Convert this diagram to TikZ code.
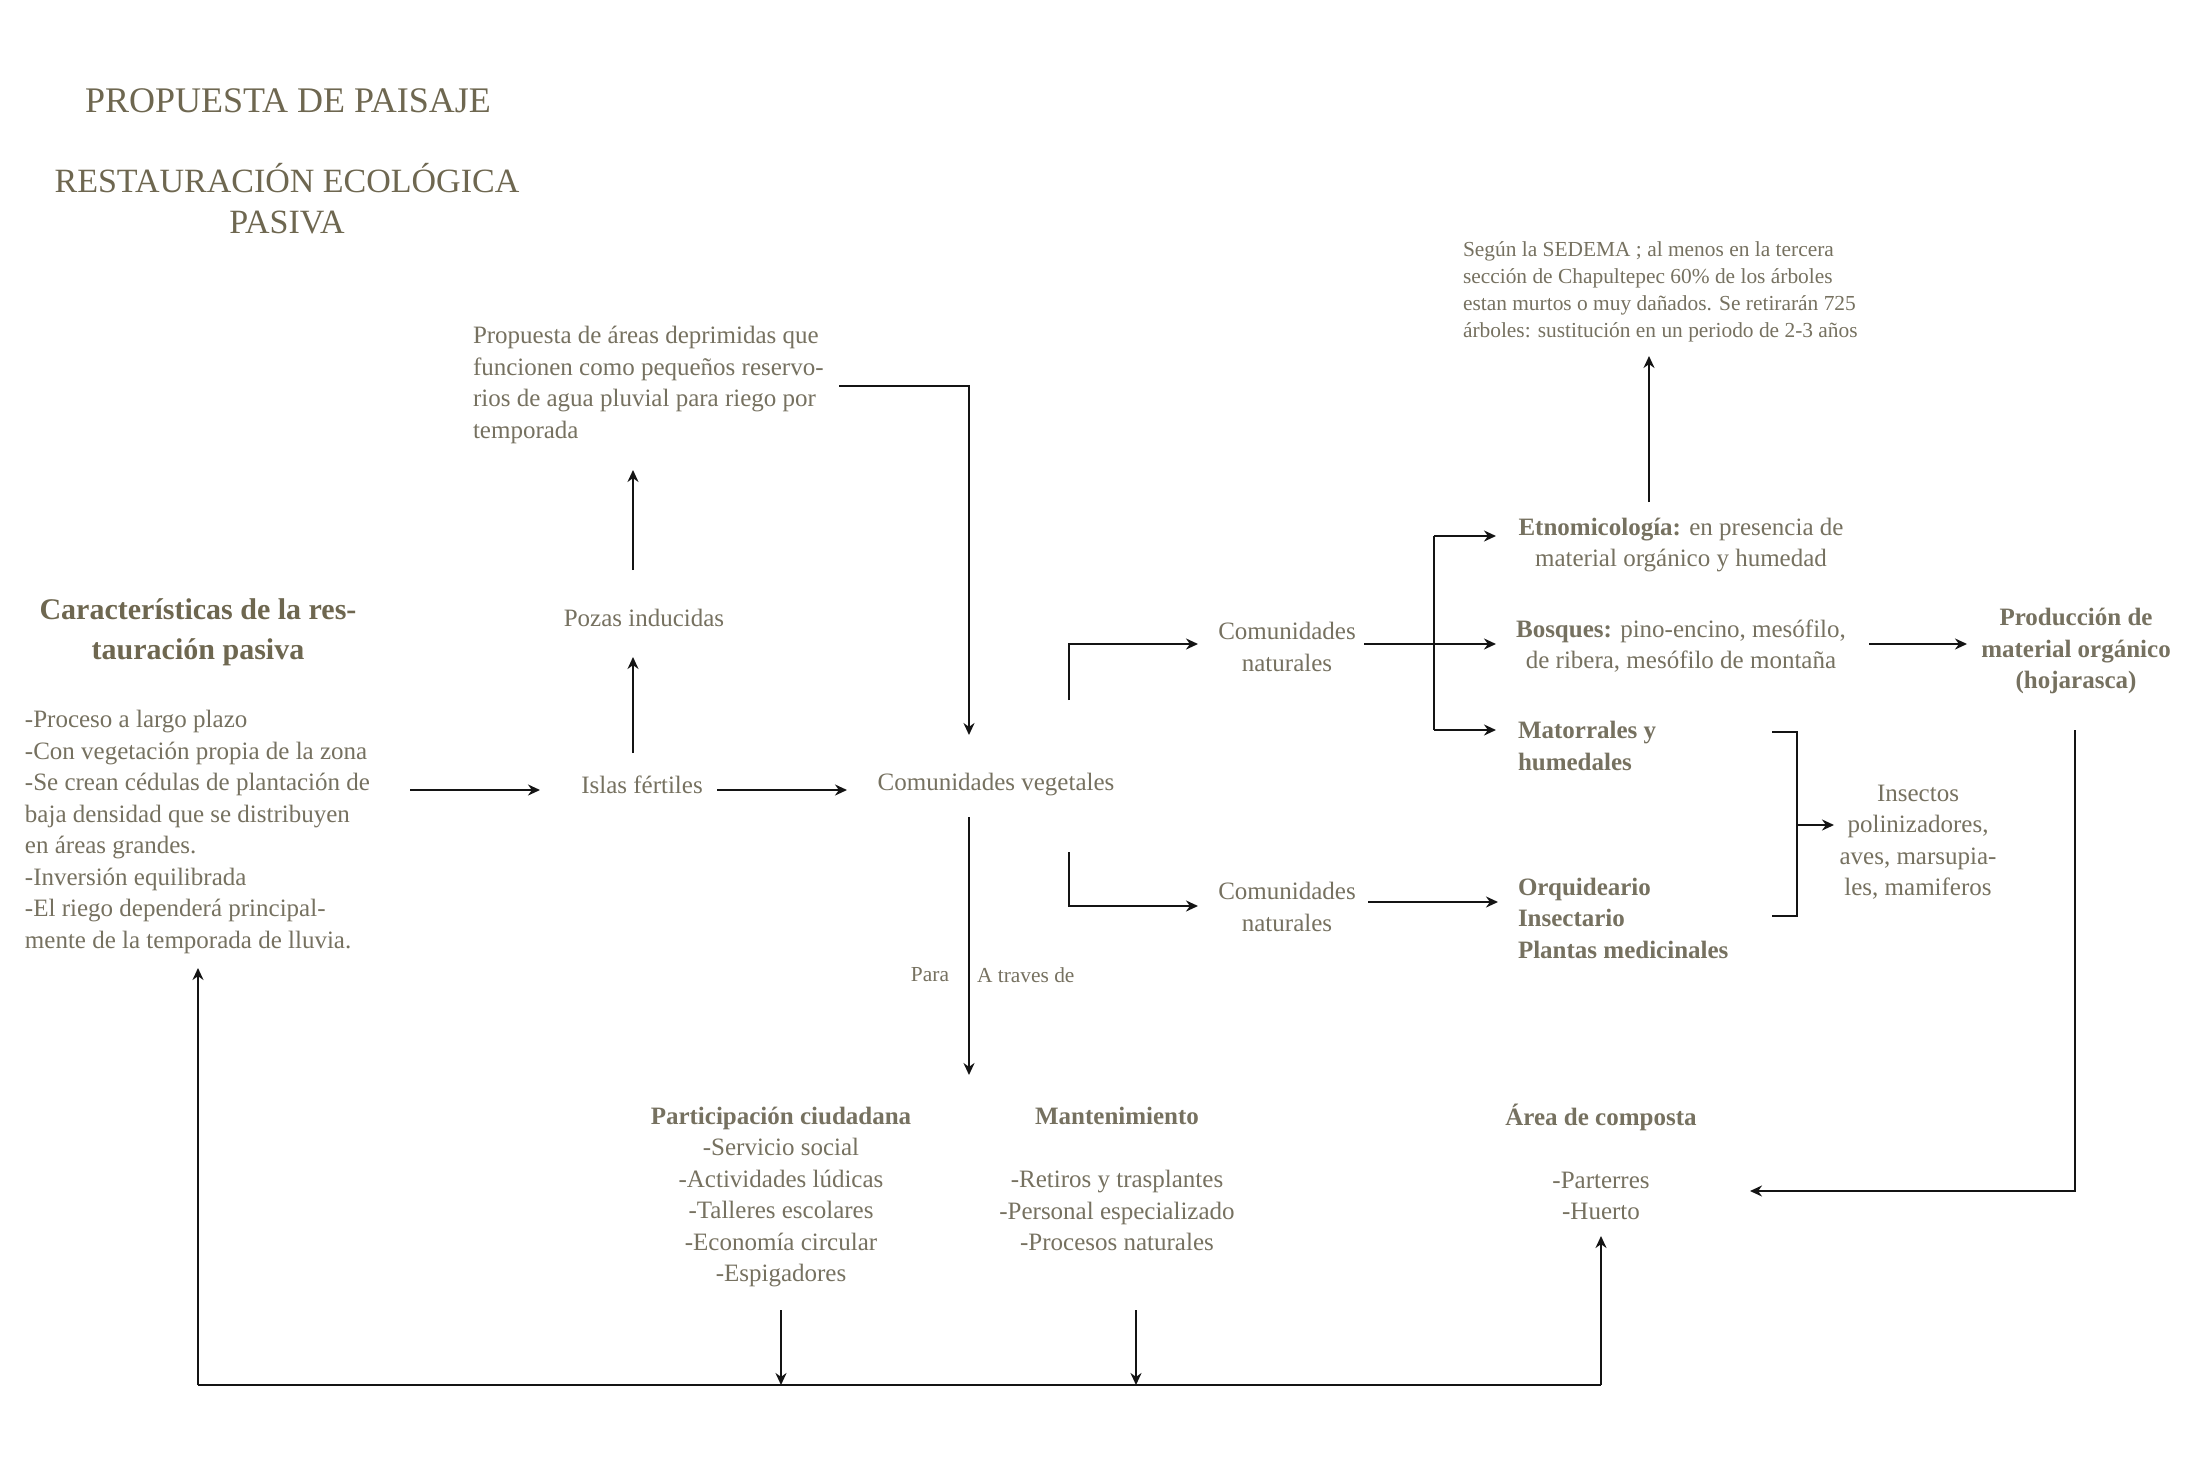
\documentclass[tikz,border=0pt]{standalone}
\usepackage{fontspec}
\setmainfont{Liberation Serif}
\usetikzlibrary{arrows.meta}
\definecolor{txtc}{RGB}{118,113,96}
\definecolor{hdc}{RGB}{110,103,80}
\definecolor{lnc}{RGB}{20,20,20}
\begin{document}
\begin{tikzpicture}[x=0.5pt,y=-0.5pt,
  every node/.style={inner sep=0pt, outer sep=0pt, text=txtc},
  body/.style={font=\fontsize{12.5}{15.75}\selectfont},
  bodyb/.style={font=\bfseries\fontsize{12.5}{15.75}\selectfont},
  small/.style={font=\fontsize{10.7}{13.5}\selectfont},
  titl/.style={text=hdc, font=\fontsize{17.5}{20.5}\selectfont, align=center},
  headb/.style={text=hdc, font=\bfseries\fontsize{15}{20}\selectfont, align=center},
  conn/.style={draw=lnc, line width=1pt},
  arr/.style={conn, -{Stealth[length=6pt,width=5.5pt]}}
]
\fill[white] (0,0) rectangle (2200,1467);
\useasboundingbox (0,0) rectangle (2200,1467);

% titles
\node[titl, font=\fontsize{18}{20.5}\selectfont] (t1) at (288,101) {PROPUESTA DE PAISAJE};
\node[titl, font=\fontsize{17}{20.5}\selectfont] (t2) at (287,199) {RESTAURACIÓN ECOLÓGICA\\PASIVA};

% left column
\node[headb] (head) at (198,632) {Características de la res-\\tauración pasiva};
\node[body, align=left, anchor=west] (list) at (25,832) {-Proceso a largo plazo\\-Con vegetación propia de la zona\\-Se crean cédulas de plantación de\\baja densidad que se distribuyen\\en áreas grandes.\\-Inversión equilibrada\\-El riego dependerá principal-\\mente de la temporada de lluvia.};

% middle
\node[body] (islas) at (642,785) {Islas fértiles};
\node[body] (pozas) at (644,618) {Pozas inducidas};
\node[body, align=left, anchor=west] (prop) at (473,385) {Propuesta de áreas deprimidas que\\funcionen como pequeños reservo-\\rios de agua pluvial para riego por\\temporada};
\node[body] (cveg) at (996,785) {Comunidades vegetales};
\node[body, align=center] (cn1) at (1287,647) {Comunidades\\naturales};
\node[body, align=center] (cn2) at (1287,907) {Comunidades\\naturales};
\node[small] (para) at (930,975) {Para};
\node[small, anchor=west] (atr) at (977,975) {A traves de};

% right
\node[small, align=left, anchor=west] (sed) at (1463,292) {Según la SEDEMA ; al menos en la tercera\\sección de Chapultepec 60\% de los árboles\\estan murtos o muy dañados. Se retirarán 725\\árboles: sustitución en un periodo de 2-3 años};
\node[body, align=center] (etno) at (1681,545) {\textbf{Etnomicología:} en presencia de\\material orgánico y humedad};
\node[body, align=center] (bosq) at (1681,646) {\textbf{Bosques:} pino-encino, mesófilo,\\de ribera, mesófilo de montaña};
\node[bodyb, align=center] (prod) at (2076,651) {Producción de\\material orgánico\\(hojarasca)};
\node[bodyb, align=left, anchor=west] (mat) at (1518,746) {Matorrales y\\humedales};
\node[bodyb, align=left, anchor=west] (orq) at (1518,918) {Orquideario\\Insectario\\Plantas medicinales};
\node[body, align=center] (ins) at (1918,842) {Insectos\\polinizadores,\\aves, marsupia-\\les, mamiferos};

% bottom
\node[body, align=center] (part) at (781,1197) {\textbf{Participación ciudadana}\\-Servicio social\\-Actividades lúdicas\\-Talleres escolares\\-Economía circular\\-Espigadores};
\node[body, align=center] (mant) at (1117,1179) {\textbf{Mantenimiento}\\[15.75pt]-Retiros y trasplantes\\-Personal especializado\\-Procesos naturales};
\node[body, align=center] (comp) at (1601,1162) {\textbf{Área de composta}\\[15.75pt]-Parterres\\-Huerto};

% connector ports
\coordinate (bl) at (198,1385);
\coordinate (br) at (1601,1385);
\coordinate (bm1) at (781,1385);
\coordinate (bm2) at (1136,1385);
\coordinate (br1) at (1434,536);
\coordinate (br2) at (1434,730);

% connectors
\draw[arr] (410,790) -- (540,790);
\draw[arr] (717,790) -- (847,790);
\draw[arr] (633,753) -- (633,657);
\draw[arr] (633,570) -- (633,470);
\draw[arr] (839,386) -- (969,386) -- (969,735);
\draw[arr] (969,817) -- (969,1075);
\draw[arr] (1069,700) -- (1069,644) -- (1198,644);
\draw[arr] (1069,852) -- (1069,906) -- (1198,906);
\draw[arr] (1364,644) -- (1496,644);
\draw[conn] (br1) -- (br2);
\draw[arr] (br1) -- (1496,536);
\draw[arr] (br2) -- (1496,730);
\draw[arr] (1649,502) -- (1649,356);
\draw[arr] (1869,644) -- (1967,644);
\draw[arr] (2075,730) -- (2075,1191) -- (1750,1191);
\draw[arr] (1368,902) -- (1498,902);
\draw[conn] (1772,732) -- (1797,732) -- (1797,916) -- (1772,916);
\draw[arr] (1797,825) -- (1834,825);
\draw[arr] (781,1310) -- (bm1);
\draw[arr] (1136,1310) -- (bm2);
\draw[conn] (bl) -- (br);
\draw[arr] (bl) -- (198,968);
\draw[arr] (br) -- (1601,1236);
\end{tikzpicture}
\end{document}
